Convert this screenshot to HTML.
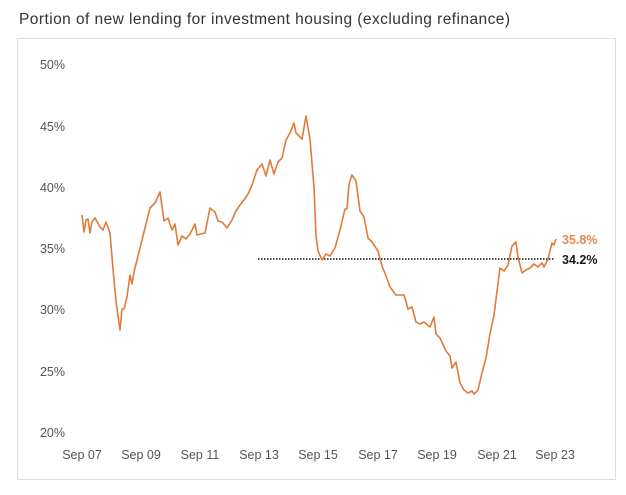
<!DOCTYPE html>
<html><head><style>
body{margin:0;background:#fff;width:626px;height:490px;overflow:hidden;font-family:"Liberation Sans",sans-serif}
</style></head><body>
<svg width="626" height="490" xmlns="http://www.w3.org/2000/svg" font-family="Liberation Sans, sans-serif">
<text x="19" y="24" font-size="15.5" fill="#333" textLength="491" lengthAdjust="spacing">Portion of new lending for investment housing (excluding  refinance)</text>
<rect x="17.5" y="38.5" width="598" height="441" fill="none" stroke="#ddd"/>
<g font-size="12.5" fill="#555" text-anchor="end">
<text x="65" y="69">50%</text><text x="65" y="131">45%</text><text x="65" y="192">40%</text>
<text x="65" y="253">35%</text><text x="65" y="314">30%</text><text x="65" y="376">25%</text><text x="65" y="437">20%</text>
</g>
<g font-size="12.5" fill="#555" text-anchor="middle">
<text x="82" y="459">Sep 07</text><text x="141" y="459">Sep 09</text><text x="200" y="459">Sep 11</text>
<text x="259" y="459">Sep 13</text><text x="318" y="459">Sep 15</text><text x="378" y="459">Sep 17</text>
<text x="437" y="459">Sep 19</text><text x="497" y="459">Sep 21</text><text x="555" y="459">Sep 23</text>
</g>
<line x1="258" y1="259" x2="555" y2="259" stroke="#111" stroke-width="1.5" stroke-dasharray="1.5,1.5"/>
<polyline fill="none" stroke="#e07b39" stroke-width="1.6" stroke-linejoin="round" points="
82,215 84,232 86,220 88,219 90,233 92,222 95,218 100,227 103,230 106,222 110,233 113,269 116,301 120,330 122,309 124,309 127,297 130,275 132,284 134,272 140,248 146,224 150,208 155,203 160,192 164,221 168,218 172,230 175,224 178,245 182,236 186,239 190,234 195,224 197,235 205,233 210,208 215,212 218,221 222,222 227,228 232,220 236,211 240,205 244,200 248,194 252,185 257,170 262,164 266,176 270,160 274,174 278,162 282,158 286,140 290,133 294,123 296,133 302,139 306,116 310,139 314,187 316,236 318,251 322,260 326,254 330,256 335,248 340,230 345,209 347,209 349,184 352,175 356,181 360,211 364,217 368,238 372,242 378,251 382,266 386,276 390,287 396,295 404,295 408,309 412,307 416,322 420,324 424,322 430,327 434,317 436,334 440,338 446,351 450,356 452,368 456,362 460,383 464,390 468,393 472,391 474,394 478,390 482,373 486,358 490,334 494,315 500,268 504,271 508,265 512,246 516,242 518,257 522,273 526,270 530,268 534,264 538,267 542,263 544,267 548,259 552,243 554,245 556,239"/>
<text x="562" y="244" font-size="12.5" font-weight="bold" fill="#e8874a">35.8%</text>
<text x="562" y="264" font-size="12.5" font-weight="bold" fill="#1a1a1a">34.2%</text>
</svg>
</body></html>
